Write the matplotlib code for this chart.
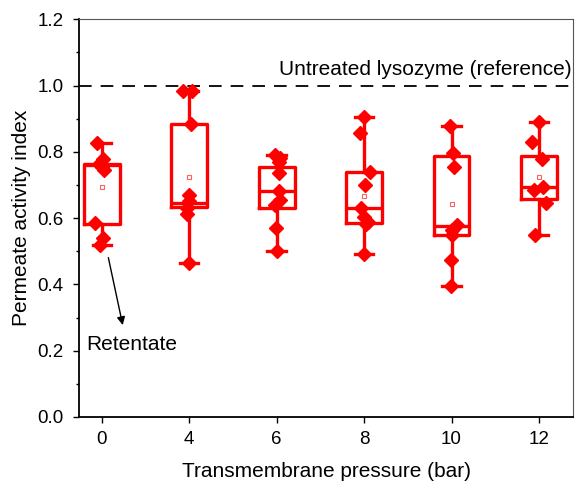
import matplotlib
matplotlib.use("Agg")
import matplotlib.pyplot as plt
import numpy as np

plt.rcParams['font.family'] = ['Liberation Sans', 'DejaVu Sans']

# Transmembrane pressure groups (bar)
pressures = ["0", "4", "6", "8", "10", "12"]

points = [
    [0.828, 0.778, 0.762, 0.755, 0.745, 0.584, 0.539, 0.519],
    [0.985, 0.984, 0.884, 0.670, 0.652, 0.630, 0.612, 0.464],
    [0.791, 0.781, 0.770, 0.735, 0.683, 0.655, 0.640, 0.569, 0.502],
    [0.906, 0.858, 0.738, 0.700, 0.632, 0.604, 0.589, 0.583, 0.491],
    [0.878, 0.798, 0.753, 0.579, 0.564, 0.549, 0.474, 0.395],
    [0.891, 0.829, 0.778, 0.695, 0.685, 0.645, 0.549],
]
# horizontal jitter of each point (category units)
jitter = [
    [-0.05, 0.01, -0.03, 0.00, 0.03, -0.08, 0.01, -0.02],
    [-0.07, 0.03, 0.02, 0.00, 0.00, -0.02, -0.03, 0.00],
    [-0.02, 0.04, 0.03, 0.03, 0.03, 0.04, -0.02, -0.01, 0.00],
    [0.00, -0.05, 0.07, 0.01, -0.03, 0.00, 0.05, 0.02, 0.00],
    [-0.02, 0.02, 0.03, 0.06, 0.00, 0.00, -0.01, -0.01],
    [0.00, -0.08, 0.03, 0.05, -0.06, 0.08, -0.04],
]

# box statistics as drawn (Origin style)
q1 = [0.582, 0.633, 0.632, 0.586, 0.549, 0.657]
med = [0.760, 0.645, 0.683, 0.632, 0.576, 0.693]
q3 = [0.763, 0.884, 0.755, 0.738, 0.788, 0.789]
means = [0.695, 0.725, 0.685, 0.668, 0.643, 0.725]

reference = 1.0

red = "#ff0000"

fig = plt.figure(figsize=(5.83, 4.90), dpi=100)
ax = fig.add_axes([0.1355, 0.149, 0.8475, 0.8116])

stats = []
for i in range(len(pressures)):
    stats.append(dict(med=med[i], q1=q1[i], q3=q3[i],
                      whislo=min(points[i]), whishi=max(points[i]),
                      mean=means[i], fliers=[]))

pos = np.arange(len(pressures))
ax.bxp(stats, positions=pos, widths=0.41, capwidths=0.21, showmeans=True,
       boxprops=dict(color=red, linewidth=2.4),
       medianprops=dict(color=red, linewidth=2.4),
       whiskerprops=dict(color=red, linewidth=2.4),
       capprops=dict(color=red, linewidth=2.4),
       meanprops=dict(marker='s', markersize=3.2, markerfacecolor='none',
                      markeredgecolor='#ff6060', markeredgewidth=0.8),
       zorder=2)

for i in range(len(pressures)):
    ax.plot(pos[i] + np.array(jitter[i]), points[i], 'D', color=red,
            markersize=6.8, linestyle='none', zorder=3)

ax.axhline(reference, color='black', linestyle=(0, (7, 5)), linewidth=1.3,
           zorder=1)
ax.text(5.37, 1.02, "Untreated lysozyme (reference)", ha='right',
        va='bottom', fontsize=15)

ax.annotate("", xy=(0.247, 0.269), xytext=(0.069, 0.489),
            arrowprops=dict(arrowstyle='-|>', color='black', lw=1.0,
                            mutation_scale=12))
ax.text(-0.18, 0.22, "Retentate", ha='left', va='center', fontsize=15)

ax.set_xlim(-0.26, 5.39)
ax.set_ylim(0, 1.2)
ax.set_xticks(pos)
ax.set_xticklabels(pressures)
ax.set_yticks(np.arange(0, 1.21, 0.2))
ax.set_yticks(np.arange(0.1, 1.2, 0.2), minor=True)
ax.yaxis.set_major_formatter(matplotlib.ticker.FormatStrFormatter('%.1f'))
ax.tick_params(axis='both', which='major', direction='out', length=4,
               width=1.0, labelsize=13.5)
ax.tick_params(axis='y', which='major', pad=7)
ax.tick_params(axis='x', which='major', pad=6)
ax.tick_params(axis='y', which='minor', direction='out', length=2.5, width=1.0)

for s in ['left', 'bottom']:
    ax.spines[s].set_linewidth(1.3)
    ax.spines[s].set_color('black')
for s in ['top', 'right']:
    ax.spines[s].set_linewidth(0.8)
    ax.spines[s].set_color('#555555')

ax.set_xlabel("Transmembrane pressure (bar)", fontsize=15, labelpad=10)
ax.set_ylabel("Permeate activity index", fontsize=15, labelpad=5)

fig.savefig("out.png", dpi=100)
